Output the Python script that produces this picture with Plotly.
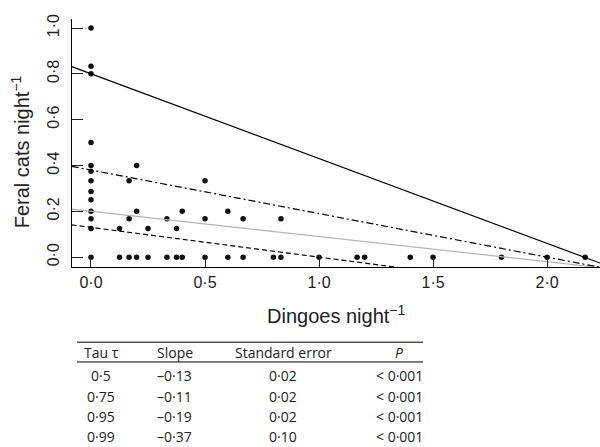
import numpy as np
import plotly.graph_objects as go

# ---------------- data ----------------
dingoes = [0, 0, 0, 0, 0, 0, 0, 0, 0, 0, 0, 0, 0,
           0.125, 0.125,
           0.167, 0.167, 0.167,
           0.2, 0.2, 0.2,
           0.25, 0.25,
           0.333, 0.333,
           0.375, 0.375,
           0.4, 0.4,
           0.5, 0.5, 0.5,
           0.6, 0.6,
           0.667, 0.667,
           0.8, 0.833, 0.833,
           1.0, 1.167, 1.2, 1.4, 1.5, 1.8, 2.0, 2.167]
cats = [1.0, 0.833, 0.8, 0.5, 0.4, 0.375, 0.333, 0.286, 0.25, 0.2, 0.167, 0.125, 0.0,
        0.125, 0.0,
        0.333, 0.167, 0.0,
        0.4, 0.2, 0.0,
        0.125, 0.0,
        0.167, 0.0,
        0.125, 0.0,
        0.2, 0.0,
        0.333, 0.167, 0.0,
        0.2, 0.0,
        0.167, 0.0,
        0.0, 0.167, 0.0,
        0.0, 0.0, 0.0, 0.0, 0.0, 0.0, 0.0, 0.0]

tau_labels = ["0·5", "0·75", "0·95", "0·99"]
intercepts = [0.13, 0.20, 0.38, 0.80]
slopes = [-0.13, -0.11, -0.19, -0.37]
slope_text = ["–0·13", "–0·11", "–0·19", "–0·37"]
se_text = ["0·02", "0·02", "0·02", "0·10"]
p_text = ["< 0·001", "< 0·001", "< 0·001", "< 0·001"]
table_headers = ["Tau τ", "Slope", "Standard error", "<i>P</i>"]

x_ticks = [0, 0.5, 1.0, 1.5, 2.0]
x_ticktext = ["0·0", "0·5", "1·0", "1·5", "2·0"]
y_ticks = [0, 0.2, 0.4, 0.6, 0.8, 1.0]
y_ticktext = ["0·0", "0·2", "0·4", "0·6", "0·8", "1·0"]

# ---------------- layout constants ----------------
W, H = 600, 447
XR = [-0.0846, 2.232]
YR = [-0.0432, 1.040]


def px(x):
    return x / W


def py(y):
    return 1 - y / H


line_styles = [
    dict(color="black", width=1.2, dash="5px,3px"),
    dict(color="#b4b4b4", width=1.2, dash="solid"),
    dict(color="black", width=1.2, dash="7px,3px,2px,3px"),
    dict(color="black", width=1.2, dash="solid"),
]

fig = go.Figure()
fig.add_trace(go.Scatter(x=dingoes, y=cats, mode="markers",
                         marker=dict(size=5.5, color="#111111"),
                         showlegend=False, hoverinfo="skip"))

xs = np.array(XR)
for b0, b1, st in zip(intercepts, slopes, line_styles):
    fig.add_trace(go.Scatter(x=xs, y=b0 + b1 * xs, mode="lines",
                             line=st, showlegend=False, hoverinfo="skip"))

tick_font = dict(family="Liberation Sans", size=16, color="#222222")

fig.update_layout(
    width=W, height=H,
    margin=dict(l=0, r=0, t=0, b=0),
    paper_bgcolor="white", plot_bgcolor="white",
    xaxis=dict(domain=[px(71.7), 1.0], range=XR, showgrid=False, zeroline=False,
               showline=True, linecolor="black", linewidth=1,
               ticks="inside", ticklen=12, tickwidth=1, tickcolor="#222222",
               tickvals=x_ticks, ticktext=x_ticktext, tickfont=tick_font,
               ticklabelstandoff=1),
    yaxis=dict(domain=[py(265), py(14)], range=YR, showgrid=False, zeroline=False,
               showline=True, linecolor="black", linewidth=1,
               ticks="inside", ticklen=11, tickwidth=1, tickcolor="#222222",
               tickvals=y_ticks, ticktext=y_ticktext, tickfont=tick_font,
               tickangle=-90, ticklabelstandoff=5),
)

title_font = dict(family="Liberation Sans", size=20, color="#222222")
ann = [
    dict(x=px(336), y=py(313), xref="paper", yref="paper",
         text="Dingoes night<sup>−1</sup>", showarrow=False, font=title_font,
         xanchor="center", yanchor="middle"),
    dict(x=px(20), y=py(149), xref="paper", yref="paper",
         text="Feral cats night<sup>−1</sup>", showarrow=False, font=title_font,
         textangle=-90, xanchor="center", yanchor="middle"),
]

# table
tfont = dict(family="Open Sans", size=14, color="#222222")
col_x = [101, 174.5, 283, 399]
header_y = 351
row_y = [375, 395.5, 416, 436.5]
for cx, txt in zip(col_x, table_headers):
    ann.append(dict(x=px(cx), y=py(header_y), xref="paper", yref="paper", text=txt,
                    showarrow=False, font=tfont, xanchor="center", yanchor="middle",
                    borderpad=0))
for i in range(len(tau_labels)):
    for cx, txt in zip(col_x, [tau_labels[i], slope_text[i], se_text[i], p_text[i]]):
        ann.append(dict(x=px(cx), y=py(row_y[i]), xref="paper", yref="paper", text=txt,
                        showarrow=False, font=tfont, xanchor="center", yanchor="middle",
                        borderpad=0))

shapes = [
    dict(type="line", xref="paper", yref="paper", x0=px(77), x1=px(423),
         y0=py(341), y1=py(341), line=dict(color="black", width=1)),
    dict(type="line", xref="paper", yref="paper", x0=px(77), x1=px(423),
         y0=py(361), y1=py(361), line=dict(color="black", width=1)),
]

fig.update_layout(annotations=ann, shapes=shapes)
fig.write_html("out.html")
